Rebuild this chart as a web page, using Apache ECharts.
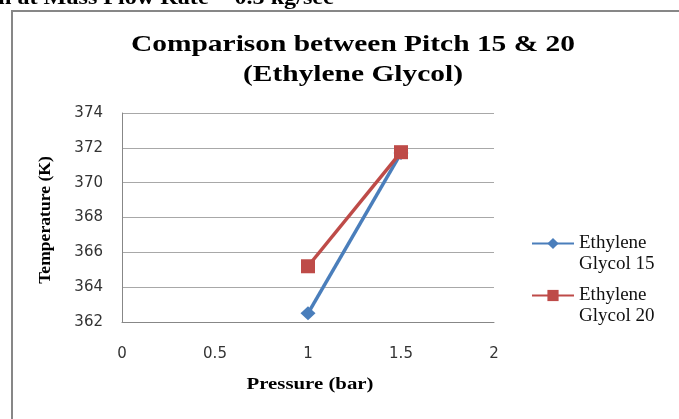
<!DOCTYPE html>
<html><head><meta charset="utf-8">
<script src="https://cdn.jsdelivr.net/npm/echarts@6/dist/echarts.min.js"></script>
<style>html,body{margin:0;padding:0;background:#fff}#c{width:679px;height:419px}</style>
</head><body><div id="c"></div>
<script>
// ---- data ----
const pressure = [1, 1.5];
const glycol15 = [362.5, 371.7];
const glycol20 = [365.2, 371.75];
const seriesNames = ['Ethylene\nGlycol 15', 'Ethylene\nGlycol 20'];
const xTicks = [0, 0.5, 1, 1.5, 2];
const yTicks = [362, 364, 366, 368, 370, 372, 374];
const titleLines = ['Comparison between Pitch 15 & 20', '(Ethylene Glycol)'];
const headerText = 'n at Mass Flow Rate = 0.5 kg/sec';
const xName = 'Pressure (bar)';
const yName = 'Temperature (K)';

const serif = '"Liberation Serif","DejaVu Serif",serif';
const sans = '"DejaVu Sans",Verdana,sans-serif';
const chart = echarts.init(document.getElementById('c'), null, {renderer: 'canvas'});

const toPairs = (xs, ys) => xs.map((x, i) => [x, ys[i]]);

chart.setOption({
  animation: false,
  backgroundColor: '#fff',
  grid: {left: 122, right: 185, top: 113, bottom: 97, containLabel: false},
  xAxis: {
    type: 'value', min: xTicks[0], max: xTicks[xTicks.length - 1], interval: xTicks[1] - xTicks[0],
    axisLine: {show: true, lineStyle: {color: '#878787', width: 1}},
    axisTick: {show: false},
    splitLine: {show: false},
    axisLabel: {color: '#333', fontFamily: sans, fontSize: 15, margin: 25}
  },
  yAxis: {
    type: 'value', min: yTicks[0], max: yTicks[yTicks.length - 1], interval: yTicks[1] - yTicks[0],
    axisLine: {show: true, lineStyle: {color: '#878787', width: 1}},
    axisTick: {show: false},
    splitLine: {show: true, lineStyle: {color: '#a8a8a8', width: 1}},
    axisLabel: {color: '#333', fontFamily: sans, fontSize: 15, margin: 19}
  },
  legend: {
    orient: 'vertical', left: 526, top: 207,
    itemWidth: 42, itemHeight: 14, itemGap: -11,
    data: seriesNames,
    formatter: name => '\n' + name,
    textStyle: {fontFamily: serif, fontSize: 19, color: '#111', lineHeight: 21}
  },
  graphic: [
    {type: 'rect', silent: true, shape: {x: 12, y: 11, width: 700, height: 500},
      style: {fill: 'none', stroke: '#878787', lineWidth: 2}},
    {type: 'text', x: -2, y: 9, scaleX: 1.15, silent: true,
      style: {text: headerText, font: 'bold 21px ' + serif, fill: '#000', align: 'left', verticalAlign: 'bottom'}},
    {type: 'text', x: 353, y: 45, scaleX: 1.28, silent: true,
      style: {text: titleLines[0], font: 'bold 23px ' + serif, fill: '#000', align: 'center', verticalAlign: 'middle'}},
    {type: 'text', x: 353, y: 75, scaleX: 1.28, silent: true,
      style: {text: titleLines[1], font: 'bold 23px ' + serif, fill: '#000', align: 'center', verticalAlign: 'middle'}},
    {type: 'text', x: 310, y: 385, scaleX: 1.3, silent: true,
      style: {text: xName, font: 'bold 16px ' + serif, fill: '#000', align: 'center', verticalAlign: 'middle'}},
    {type: 'text', x: 46, y: 220, rotation: Math.PI / 2, scaleX: 1.1, silent: true,
      style: {text: yName, font: 'bold 16px ' + serif, fill: '#000', align: 'center', verticalAlign: 'middle'}}
  ],
  series: [
    {name: seriesNames[0], type: 'line', data: toPairs(pressure, glycol15),
      symbol: 'diamond', symbolSize: [15, 14],
      lineStyle: {color: '#4a7ebb', width: 3.5}, itemStyle: {color: '#4a7ebb'}},
    {name: seriesNames[1], type: 'line', data: toPairs(pressure, glycol20),
      symbol: 'rect', symbolSize: 14,
      lineStyle: {color: '#be4b48', width: 3.5}, itemStyle: {color: '#be4b48'}}
  ]
});
</script></body></html>
